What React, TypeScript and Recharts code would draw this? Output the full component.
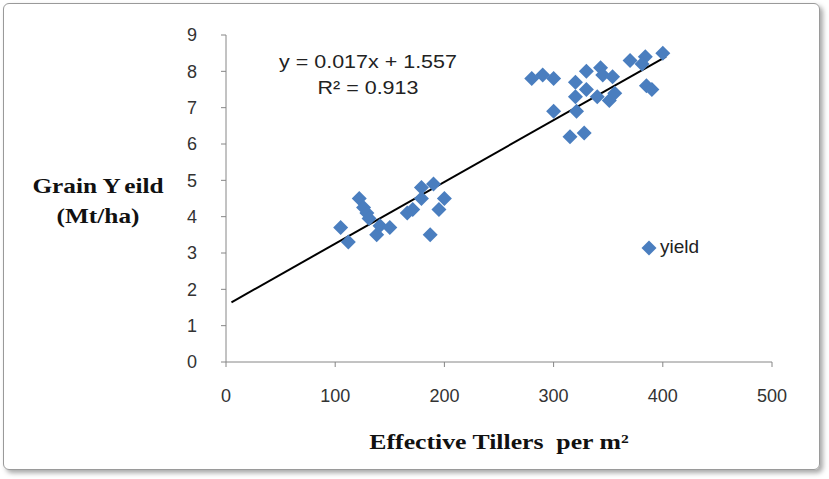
import {
  ScatterChart,
  Scatter,
  XAxis,
  YAxis,
  ReferenceLine,
} from "recharts";

// effective tillers per m2 and grain yield (Mt/ha)
const tillers = [
  105, 112, 122, 126, 129, 131, 138, 141, 150, 166, 171, 179, 179, 190, 187, 195, 200,
  280, 290, 300, 300, 315, 328, 320, 320, 321, 330, 330, 340, 343, 345, 354, 351, 356,
  370, 384, 381, 385, 390, 400,
];
const yieldValues = [
  3.7, 3.3, 4.5, 4.25, 4.1, 3.95, 3.5, 3.75, 3.7, 4.1, 4.2, 4.5, 4.8, 4.9, 3.5, 4.2, 4.5,
  7.8, 7.9, 7.8, 6.9, 6.2, 6.3, 7.7, 7.3, 6.9, 8.0, 7.5, 7.3, 8.1, 7.9, 7.85, 7.2, 7.4,
  8.3, 8.4, 8.2, 7.6, 7.5, 8.5,
];

const xTicks = [0, 100, 200, 300, 400, 500];
const yTicks = [0, 1, 2, 3, 4, 5, 6, 7, 8, 9];

const slope = 0.017;
const intercept = 1.557;
const trendFrom = 5;
const trendTo = 403;

const points = tillers.map((x, i) => ({ x, y: yieldValues[i] }));
const trend = [
  { x: trendFrom, y: slope * trendFrom + intercept },
  { x: trendTo, y: slope * trendTo + intercept },
];

const BLUE = "#4a7ebf";
const AXIS = "#868686";

const Diamond = (props: any) => {
  const { cx, cy } = props;
  const r = 7.5;
  return (
    <polygon
      points={`${cx},${cy - r} ${cx + r},${cy} ${cx},${cy + r} ${cx - r},${cy}`}
      fill={BLUE}
    />
  );
};

const tickStyle = { fill: "#333", fontSize: 18, fontFamily: "Liberation Sans, Arial, sans-serif" };

const abs = (left: number, top: number, sx = 1): React.CSSProperties => ({
  position: "absolute",
  left,
  top,
  transform: `translate(-50%, -50%) scaleX(${sx})`,
  whiteSpace: "pre",
});

const serifBold: React.CSSProperties = {
  fontFamily: "Liberation Serif, Times New Roman, serif",
  fontWeight: "bold",
  fontSize: 22,
  color: "#111",
};

const sans: React.CSSProperties = {
  fontFamily: "Liberation Sans, Arial, sans-serif",
  fontSize: 19,
  color: "#222",
};

export default function App() {
  return (
    <div
      style={{
        position: "fixed",
        left: 0,
        top: 0,
        width: 829,
        height: 479,
        background: "#fff",
        overflow: "hidden",
      }}
    >
      <div
        style={{
          position: "absolute",
          left: 3,
          top: 3,
          width: 815,
          height: 465,
          border: "1px solid #9a9a9a",
          borderRadius: 6,
          boxShadow: "3px 3px 5px rgba(0,0,0,0.35)",
        }}
      />
      <ScatterChart
        width={829}
        height={479}
        margin={{ top: 35, right: 57, bottom: 87, left: 166 }}
        style={{ position: "absolute", left: 0, top: 0 }}
      >
        <XAxis
          type="number"
          dataKey="x"
          domain={[0, 500]}
          ticks={xTicks}
          height={30}
          stroke={AXIS}
          tickSize={5}
          tickMargin={22}
          tick={tickStyle}
          tickLine={{ stroke: AXIS }}
        />
        <YAxis
          type="number"
          dataKey="y"
          domain={[0, 9]}
          ticks={yTicks}
          width={60}
          stroke={AXIS}
          tickSize={5}
          tickMargin={24}
          tick={tickStyle}
          tickLine={{ stroke: AXIS }}
        />
        <Scatter data={points} shape={<Diamond />} isAnimationActive={false} />
        <ReferenceLine
          segment={trend}
          stroke="#000"
          strokeWidth={2}
          ifOverflow="visible"
        />
      </ScatterChart>

      <div style={{ ...abs(368, 62, 1.13), ...sans }}>y = 0.017x + 1.557</div>
      <div style={{ ...abs(368, 88, 1.13), ...sans }}>R² = 0.913</div>

      <div style={{ ...abs(98, 186, 1.15), ...serifBold }}>
        Grain <span style={{ marginRight: 3 }}>Y</span>eild
      </div>
      <div style={{ ...abs(98, 216, 1.15), ...serifBold }}>(Mt/ha)</div>
      <div style={{ ...abs(499, 442, 1.17), ...serifBold }}>
        Effective Tillers  per m²
      </div>

      <div
        style={{
          position: "absolute",
          left: 641,
          top: 240,
          width: 16,
          height: 16,
        }}
      >
        <svg width={16} height={16}>
          <polygon points="8,0.5 15.5,8 8,15.5 0.5,8" fill={BLUE} />
        </svg>
      </div>
      <div
        style={{
          position: "absolute",
          left: 660,
          top: 247,
          transform: "translateY(-50%)",
          ...sans,
        }}
      >
        yield
      </div>
    </div>
  );
}
